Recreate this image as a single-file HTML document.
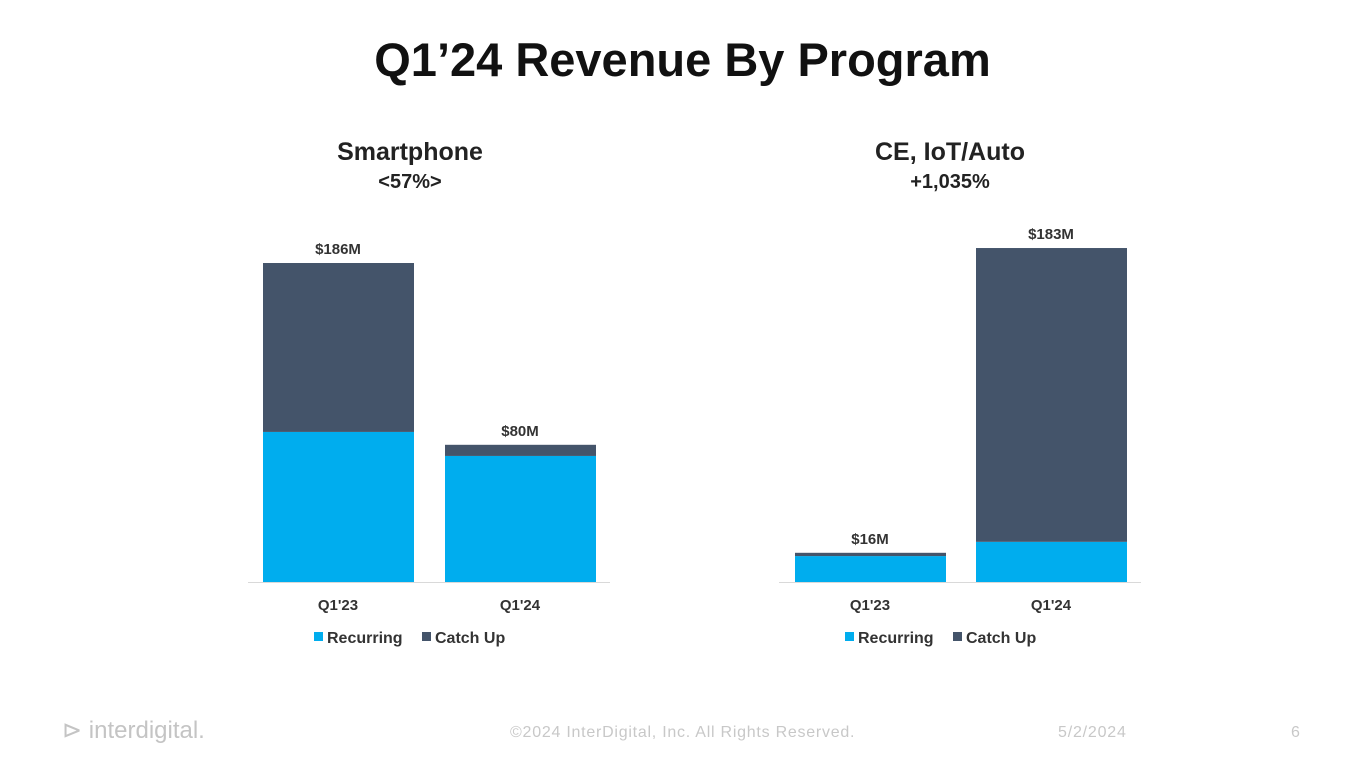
<!DOCTYPE html>
<html><head><meta charset="utf-8"><style>
body{margin:0;width:1365px;height:768px;background:#fff;font-family:"Liberation Sans",sans-serif;overflow:hidden;position:relative}
.t{position:absolute;white-space:nowrap}
</style></head><body>
<div class="t" style="left:0;width:1365px;text-align:center;top:32px;font-size:47px;font-weight:bold;color:#111">Q1’24 Revenue By Program</div>
<div class="t" style="left:260px;width:300px;text-align:center;top:138px;font-size:25px;font-weight:bold;color:#222;line-height:28px">Smartphone<br><span style="font-size:20px">&lt;57%&gt;</span></div>
<div class="t" style="left:800px;width:300px;text-align:center;top:138px;font-size:25px;font-weight:bold;color:#222;line-height:28px">CE, IoT/Auto<br><span style="font-size:20px">+1,035%</span></div>
<svg id="c" width="1365" height="768" style="position:absolute;left:0;top:0"></svg>
<div class="t" style="left:62px;top:716px;font-size:24px;color:#c4c4c4">⊳ interdigital.</div>
<div class="t" style="left:510px;top:724px;font-size:16px;color:#c8c8c8;letter-spacing:0.75px">©2024 InterDigital, Inc. All Rights Reserved.</div>
<div class="t" style="left:1058px;top:724px;font-size:16px;color:#c8c8c8;letter-spacing:0.8px">5/2/2024</div>
<div class="t" style="left:1291px;top:724px;font-size:16px;color:#c8c8c8">6</div>
<script>
const categories=["Q1'23","Q1'24"];
const phoneRecurring=[87.5,73.5];
const phoneCatchUp=[98.5,6.5];
const phoneTotals=["$186M","$80M"];
const ceRecurring=[14.2,22];
const ceCatchUp=[1.8,161];
const ceTotals=["$16M","$183M"];
const NS="http://www.w3.org/2000/svg";
const svg=document.getElementById('c');
function mk(t,a,txt){const e=document.createElementNS(NS,t);for(const k in a)e.setAttribute(k,a[k]);if(txt!=null)e.textContent=txt;svg.appendChild(e);return e;}
function chart(name,x0,x1,pxPer,rec,cu,tot,bx){
  const base=582,y=v=>base-v*pxPer;
  let a=mk('line',{x1:x0,x2:x1,y1:base+0.5,y2:base+0.5,stroke:'#d9d9d9','stroke-width':1});
  
  categories.forEach((c,i)=>{
    const x=bx[i];
    let r=mk('rect',{x:x,y:y(rec[i]),width:151,height:rec[i]*pxPer,fill:'#00adee'});
    
    let k=mk('rect',{x:x,y:y(rec[i]+cu[i]),width:151,height:cu[i]*pxPer,fill:'#44546a'});
    
    let l=mk('text',{x:x+75,y:y(rec[i]+cu[i])-9,'text-anchor':'middle','font-size':15,'font-weight':'bold',fill:'#333'},tot[i]);
    
    let cl=mk('text',{x:x+75,y:610,'text-anchor':'middle','font-size':15,'font-weight':'bold',fill:'#333'},c);
    
  });
  const lx=(x0+x1)/2-115;
  let s1=mk('rect',{x:lx,y:632,width:9,height:9,fill:'#00adee'});
  mk('text',{x:lx+13,y:643,'font-size':16,'font-weight':'bold',fill:'#333'},'Recurring');
  let s2=mk('rect',{x:lx+108,y:632,width:9,height:9,fill:'#44546a'});
  mk('text',{x:lx+121,y:643,'font-size':16,'font-weight':'bold',fill:'#333'},'Catch Up');
}
chart('smartphone',248,610,1.715,phoneRecurring,phoneCatchUp,phoneTotals,[263,445]);
chart('ce-iot',779,1141,1.825,ceRecurring,ceCatchUp,ceTotals,[795,976]);
</script>
</body></html>
